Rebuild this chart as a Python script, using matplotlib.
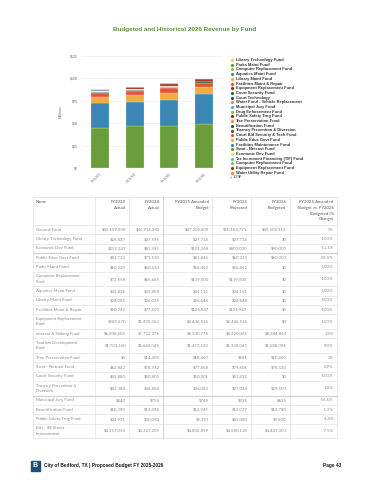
import numpy as np
import matplotlib
matplotlib.use("Agg")
import matplotlib.pyplot as plt
from matplotlib.patches import Rectangle

# table data (whole dollars)
table_names = ["General Fund", "Library Technology Fund", "Economic Dev Fund",
               "Public Educ Govt Fund", "Parks Maint Fund", "Computer Replacement Fund",
               "Aquatics Maint Fund", "Library Maint Fund", "Facilities Maint & Repair",
               "Equipment Replacement Fund", "Interest & Sinking Fund",
               "Tourism Development Fund", "Tree Preservation Fund", "Swat - Netcast Fund",
               "Court Security Fund", "Truancy Prevention & Diversion",
               "Municipal Jury Fund", "Beautification Fund", "Public Safety Trng Fund",
               "Eiki - 48 Street Improvement"]
shown_names = ["General Fund", "Library Technology Fund", "Economic Dev Fund",
               "Public Educ Govt Fund", "Parks Maint Fund", "Computer Replacement\nFund",
               "Aquatics Maint Fund", "Library Maint Fund", "Facilities Maint & Repair",
               "Equipment Replacement\nFund", "Interest & Sinking Fund",
               "Tourism Development\nFund", "Tree Preservation Fund", "Swat - Netcast Fund",
               "Court Security Fund", "Truancy Prevention &\nDiversion",
               "Municipal Jury Fund", "Beautification Fund", "Public Safety Trng Fund",
               "Eiki - 48 Street\nImprovement"]
fy23_actual = [45159030, 26827, 352247, 81713, 60239, 72598, 32826, 28085, 50242, 989670,
               6808603, 1701160, 0, 62842, 42880, 42384, 840, 10390, 34971, 4357050]
fy24_actual = [46914182, 27596, 81395, 73510, 60634, 66685, 35808, 26035, 77500, 1495363,
               7722376, 1644049, 14403, 78732, 50803, 36804, 754, 13494, 30090, 4323205]
fy25_amended = [47206809, 27714, 101268, 83846, 56462, 119000, 34112, 26644, 126947, 2446536,
                8240775, 1457520, 10460, 77858, 50201, 36083, 749, 12945, 9391, 4802899]
fy25_projected = [50152771, 27714, 800000, 60233, 56462, 119000, 34151, 26644, 126947, 2446536,
                  8220065, 1328047, 581, 79606, 51832, 27034, 335, 13077, 43080, 4580118]
fy26_budgeted = [49508913, 0, 90000, 60000, 0, 0, 0, 0, 0, 0,
                 8384864, 1588096, 10460, 78520, 0, 29500, 625, 12780, 9800, 4443000]
pct_change = ["5%", "-100%", "-11.1%", "-28.5%", "-100%", "-100%", "-100%", "-100%", "-100%",
              "-100%", "1.8%", "9.0%", "0%", "0.9%", "-100%", "-18%", "-16.6%", "-1.3%",
              "4.4%", "-7.5%"]

header = ["Name", "FY2023\nActual", "FY2024\nActual", "FY2025 Amended\nBudget",
          "FY2025\nProjected", "FY2026\nBudgeted",
          "FY2025 Amended\nBudget vs. FY2026\nBudgeted (%\nChange)"]

# chart data
years = ["FY2023", "FY2024", "FY2025", "FY2026"]
# funds not listed in the table (millions, estimated from the bars)
water_sewer = [26.9, 26.6, 28.5, 32.9]
court_technology = [0.04, 0.04, 0.04, 0.0]
water_vehicle_repl = [0.5, 0.5, 0.6, 0.0]
drug_enforcement = [0.02, 0.02, 0.02, 0.0]
court_bld_security = [0.0, 0.0, 0.0, 0.1]
facilities_maint_fund = [0.0, 0.0, 0.0, 0.15]
tif_fund = [0.3, 0.35, 0.4, 0.45]
computer_repl_2 = [0.0, 0.0, 0.0, 0.12]
equipment_repl_2 = [0.0, 0.0, 0.0, 2.0]
water_utility_repair = [0.0, 0.0, 0.0, 0.5]

# legend page 1 (order of the legend) and colours
legend_funds = ["Library Technology Fund", "Parks Maint Fund", "Computer Replacement Fund",
                "Aquatics Maint Fund", "Library Maint Fund", "Facilities Maint & Repair",
                "Equipment Replacement Fund", "Court Security Fund", "Court Technology",
                "Water Fund - Vehicle Replacement", "Municipal Jury Fund",
                "Drug Enforcement Fund", "Public Safety Trng Fund", "Tree Preservation Fund",
                "Beautification Fund", "Truancy Prevention & Diversion",
                "Court Bld Security & Tech Fund", "Public Educ Govt Fund",
                "Facilities Maintenance Fund", "Swat - Netcast Fund", "Economic Dev Fund",
                "Tax Increment Financing (TIF) Fund", "Computer Replacement Fund",
                "Equipment Replacement Fund", "Water Utility Repair Fund"]
legend_colors = ["#f2d24b", "#5e9a35", "#8dc152", "#3a86b6", "#f5aa3c", "#e9533c",
                 "#a3261f", "#2e6b34", "#27506e", "#f08a3a", "#5bb1dd", "#8dc152",
                 "#a3261f", "#f08a3a", "#27506e", "#2e6b34", "#e9533c", "#f5aa3c",
                 "#3a86b6", "#5e9a35", "#f2d24b", "#5bb1dd", "#8dc152", "#a3261f",
                 "#f08a3a"]

# build the series
cols = [fy23_actual, fy24_actual, fy25_amended, fy26_budgeted]
def from_table(name):
    i = table_names.index(name)
    return [c[i] / 1e6 for c in cols]

extra = {"Court Technology": court_technology,
         "Water Fund - Vehicle Replacement": water_vehicle_repl,
         "Drug Enforcement Fund": drug_enforcement,
         "Court Bld Security & Tech Fund": court_bld_security,
         "Facilities Maintenance Fund": facilities_maint_fund,
         "Tax Increment Financing (TIF) Fund": tif_fund,
         "Water Utility Repair Fund": water_utility_repair}

legend_values = []
for k, name in enumerate(legend_funds):
    if k == 22:
        legend_values.append(computer_repl_2)
    elif k == 23:
        legend_values.append(equipment_repl_2)
    elif name in extra:
        legend_values.append(extra[name])
    else:
        legend_values.append(from_table(name))

# bottom to top
stack = [(from_table("General Fund"), "#6a9e3b"),
         (water_sewer, "#3a87b6"),
         (from_table("Interest & Sinking Fund"), "#f5aa3c"),
         (from_table("Eiki - 48 Street Improvement"), "#e8523b"),
         (from_table("Tourism Development Fund"), "#2f6b34")]
for vals, c in zip(legend_values[::-1], legend_colors[::-1]):
    stack.append((vals, c))

plt.rcParams['font.family'] = ['Liberation Sans', 'DejaVu Sans']

W, H = 370, 480
fig = plt.figure(figsize=(W / 100, H / 100), dpi=100)

# page overlay in pixel coordinates
pg = fig.add_axes([0, 0, 1, 1])
pg.set_xlim(0, W)
pg.set_ylim(H, 0)
pg.axis("off")

pg.text(185, 30, "Budgeted and Historical 2026 Revenue by Fund", ha="center", va="center",
        fontsize=4.6, fontweight="bold", color="#5a9a3a")

# chart
ax = fig.add_axes([82.2 / W, 1 - 168.3 / H, 139.6 / W, 112.6 / H])
x = np.arange(len(years))
bottom = np.zeros(len(years))
for vals, c in stack:
    vals = np.array(vals)
    ax.bar(x, vals, 0.514, bottom=bottom, color=c, edgecolor="white", linewidth=0.15)
    bottom += vals
ax.set_xlim(-0.5, 3.5)
ax.set_ylim(0, 125)
ax.set_yticks([0, 25, 50, 75, 100, 125])
ax.set_yticklabels(["$0", "$25", "$50", "$75", "$100", "$125"])
ax.set_xticks(x)
ax.set_xticklabels(years, rotation=45, ha="right", rotation_mode="anchor")
ax.tick_params(length=0, labelsize=2.6, colors="#666666", pad=3)
ax.set_ylabel("Millions", fontsize=2.8, color="#777777", labelpad=5)
ax.yaxis.grid(True, color="#ebebeb", linewidth=0.4)
ax.set_axisbelow(True)
for s in ax.spines.values():
    s.set_visible(False)

# legend drawn as page text
for k, (name, c) in enumerate(zip(legend_funds, legend_colors)):
    y = 60 + k * 4.7
    pg.plot(231.7, y, "o", ms=2.3, color=c, mec="none")
    pg.text(235.5, y, name, fontsize=2.9, fontweight="bold", color="#333333",
            va="center", ha="left")
pg.text(229.5, 177.5, "\u25b2", fontsize=2.4, color="#bbbbbb", va="center",
        family=["DejaVu Sans"])
pg.text(233, 177.5, "1/2", fontsize=2.8, color="#333333", va="center")
pg.text(238, 177.5, "\u25bc", fontsize=2.8, color="#1f4f99", va="center",
        family=["DejaVu Sans"])

# table
col_edges = [33, 95, 129, 163, 212, 250.5, 289.5, 336.5]
line_c = "#dcdcdc"
head_top, head_bot = 197, 225
single_h, double_h = 9.35, 14.6
fs = 3.05
tf = ["Lato", "DejaVu Sans"]

for j, h in enumerate(header):
    if j == 0:
        pg.text(col_edges[0] + 3, head_top + 3, h, fontsize=fs, color="#555555",
                va="top", ha="left", family=tf, linespacing=1.6)
    else:
        pg.text(col_edges[j + 1] - 3, head_top + 3, h, fontsize=fs, color="#555555",
                va="top", ha="right", multialignment="right", family=tf, linespacing=1.6)

y = head_bot
row_bounds = [head_top, head_bot]
for i, name in enumerate(shown_names):
    h = double_h if "\n" in name else single_h
    yc = y + h / 2
    cells = [name, f"${fy23_actual[i]:,}", f"${fy24_actual[i]:,}", f"${fy25_amended[i]:,}",
             f"${fy25_projected[i]:,}", f"${fy26_budgeted[i]:,}", pct_change[i]]
    for j, t in enumerate(cells):
        if j == 0:
            pg.text(col_edges[0] + 3, yc, t, fontsize=fs, color="#8a8a8a", va="center",
                    ha="left", family=tf, linespacing=1.5)
        else:
            pg.text(col_edges[j + 1] - 3, yc, t, fontsize=fs, color="#8a8a8a", va="center",
                    ha="right", family=tf)
    y += h
    row_bounds.append(y)

for yb in row_bounds:
    pg.plot([col_edges[0], col_edges[-1]], [yb, yb], color=line_c, lw=0.4)
for xb in col_edges:
    pg.plot([xb, xb], [head_top, row_bounds[-1]], color=line_c, lw=0.4)
# heavier rules where the original page broke
for b in (4, 17):
    pg.plot([col_edges[0], col_edges[-1]], [row_bounds[b], row_bounds[b]],
            color="#d0d0d0", lw=0.9)
pg.plot([col_edges[3], col_edges[3]], [head_top, row_bounds[-1]], color="#cfcfcf", lw=0.6)

# footer
pg.add_patch(Rectangle((30.5, 460.5), 9.5, 10.5, color="#1f4d78"))
pg.text(35.3, 465.8, "B", fontsize=5, fontweight="bold", color="white", ha="center",
        va="center")
pg.text(44, 465.5, "City of Bedford, TX | Proposed Budget FY 2025-2026", fontsize=3.4,
        fontweight="bold", color="#1a1a1a", va="center", ha="left")
pg.text(341.5, 465.5, "Page 43", fontsize=3.4, fontweight="bold", color="#1a1a1a",
        va="center", ha="right")

fig.savefig("out.png", dpi=100)
